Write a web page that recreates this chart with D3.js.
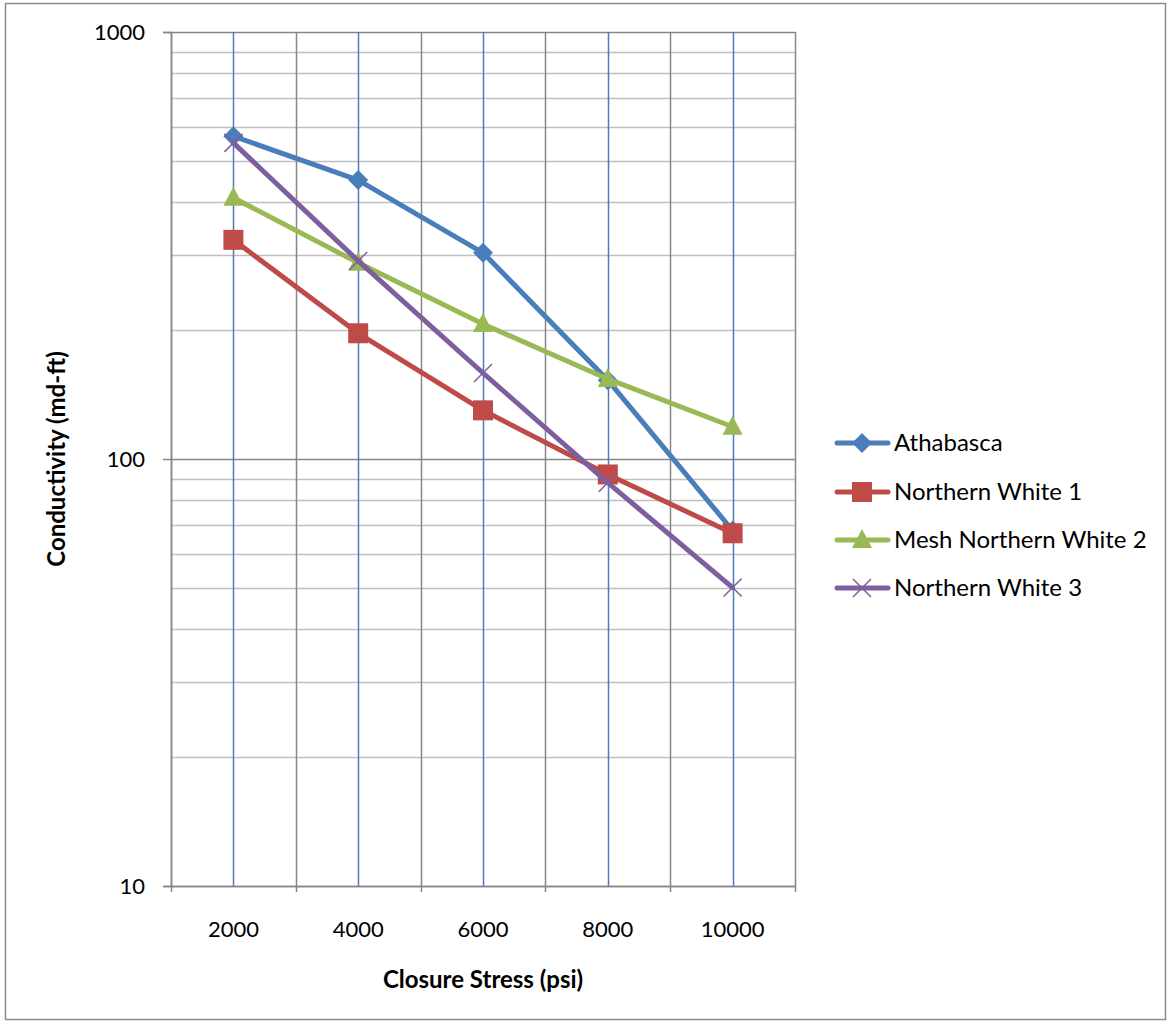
<!DOCTYPE html>
<html><head><meta charset="utf-8">
<script src="https://cdn.jsdelivr.net/npm/d3@7"></script>
<style>body{margin:0;background:#fff;}svg{display:block;}</style>
</head><body>
<script>
const categories = [2000, 4000, 6000, 8000, 10000];
const seriesNames = ["Athabasca", "Northern White 1", "Mesh Northern White 2", "Northern White 3"];
const athabasca = [570, 450, 304, 153, 68];
const northernWhite1 = [326, 197, 130, 92, 67];
const meshNorthernWhite2 = [409, 288, 207, 154, 119];
const northernWhite3 = [550, 291, 159, 88, 50];
const yTicks = [10, 100, 1000];
const colors = ["#4A7EBB", "#BE4B48", "#98B954", "#7D5FA0"];
const markers = ["diamond", "square", "triangle", "x"];
const seriesValues = [athabasca, northernWhite1, meshNorthernWhite2, northernWhite3];

const W = 1171, H = 1024;
const font = "Lato, 'Open Sans', sans-serif";
const svg = d3.select("body").append("svg").attr("width", W).attr("height", H);
svg.append("rect").attr("x", 5.5).attr("y", 3.5).attr("width", 1160).attr("height", 1016)
  .attr("fill", "#fff").attr("stroke", "#8c8c8c").attr("stroke-width", 1.5);

const L = 171, R = 795, T = 32, B = 886;
const x = d3.scaleBand().domain(categories).range([L, R]).paddingInner(0).paddingOuter(0);
const y = d3.scaleLog().domain([10, 1000]).range([B, T]);

// minor gridlines
const minor = [];
for (const d of [10, 100]) for (let k = 2; k <= 9; k++) minor.push(d * k);
svg.append("g").selectAll("line").data(minor).join("line")
  .attr("x1", L).attr("x2", R).attr("y1", d => Math.round(y(d)) + 0.5).attr("y2", d => Math.round(y(d)) + 0.5)
  .attr("stroke", "#c0c0c0").attr("stroke-width", 1.5);
// major gridlines
svg.append("g").selectAll("line").data(yTicks).join("line")
  .attr("x1", L).attr("x2", R).attr("y1", d => Math.round(y(d)) + 0.5).attr("y2", d => Math.round(y(d)) + 0.5)
  .attr("stroke", "#868686").attr("stroke-width", 1.5);
// vertical grid at category boundaries
const bounds = categories.map(c => x(c)).concat([R]);
svg.append("g").selectAll("line").data(bounds).join("line")
  .attr("x1", d => Math.round(d) + 0.5).attr("x2", d => Math.round(d) + 0.5).attr("y1", T).attr("y2", B + 6)
  .attr("stroke", "#868686").attr("stroke-width", 1.5);
// blue vertical lines at category centers
svg.append("g").selectAll("line").data(categories).join("line")
  .attr("x1", d => Math.round(x(d) + x.bandwidth() / 2) + 0.5).attr("x2", d => Math.round(x(d) + x.bandwidth() / 2) + 0.5)
  .attr("y1", T).attr("y2", B)
  .attr("stroke", "#4A7EBB").attr("stroke-width", 1.5);

// axes
const yAxis = d3.axisLeft(y).tickValues(yTicks).tickFormat(d3.format("d")).tickSize(8).tickPadding(18);
const gy = svg.append("g").attr("transform", `translate(${L},0)`).call(yAxis);
gy.select(".domain").attr("stroke", "#868686").attr("stroke-width", 1.5);
gy.selectAll(".tick line").attr("stroke", "#868686").attr("stroke-width", 1.5);
gy.selectAll("text").attr("font-family", font).attr("font-size", 22).attr("fill", "#000");

const xAxis = d3.axisBottom(x).tickSize(0).tickPadding(35);
const gx = svg.append("g").attr("transform", `translate(0,${B})`).call(xAxis);
gx.select(".domain").attr("stroke", "#868686").attr("stroke-width", 1.5);
gx.selectAll("text").attr("font-family", font).attr("font-size", 22).attr("fill", "#000");

// axis titles
svg.append("text").attr("x", (L + R) / 2).attr("y", 988).attr("text-anchor", "middle")
  .attr("font-family", font).attr("font-size", 24).attr("font-weight", "bold").text("Closure Stress (psi)");
svg.append("text").attr("transform", `translate(65,${(T + B) / 2}) rotate(-90)`).attr("text-anchor", "middle")
  .attr("font-family", font).attr("font-size", 24).attr("font-weight", "bold").text("Conductivity (md-ft)");

function drawMarker(g, type, color, cx, cy) {
  if (type === "diamond") {
    g.append("path").attr("d", `M${cx},${cy - 10}L${cx + 10},${cy}L${cx},${cy + 10}L${cx - 10},${cy}Z`).attr("fill", color);
  } else if (type === "square") {
    g.append("rect").attr("x", cx - 10).attr("y", cy - 10).attr("width", 20).attr("height", 20).attr("fill", color);
  } else if (type === "triangle") {
    g.append("path").attr("d", `M${cx},${cy - 11}L${cx + 10},${cy + 8}L${cx - 10},${cy + 8}Z`).attr("fill", color);
  } else {
    g.append("path").attr("d", `M${cx - 9},${cy - 9}L${cx + 9},${cy + 9}M${cx - 9},${cy + 9}L${cx + 9},${cy - 9}`)
      .attr("stroke", color).attr("stroke-width", 1.5).attr("fill", "none");
  }
}

const line = d3.line().x((d, i) => x(categories[i]) + x.bandwidth() / 2).y(d => y(d));
seriesValues.forEach((vals, si) => {
  const g = svg.append("g");
  g.append("path").attr("d", line(vals)).attr("fill", "none").attr("stroke", colors[si])
    .attr("stroke-width", 5).attr("stroke-linejoin", "round").attr("stroke-linecap", "round");
  vals.forEach((v, i) => drawMarker(g, markers[si], colors[si], x(categories[i]) + x.bandwidth() / 2, y(v)));
});

// legend
const legY = [443, 492, 540, 588];
seriesNames.forEach((name, si) => {
  const g = svg.append("g");
  const yy = legY[si];
  g.append("line").attr("x1", 837).attr("x2", 888).attr("y1", yy).attr("y2", yy)
    .attr("stroke", colors[si]).attr("stroke-width", 5).attr("stroke-linecap", "round");
  drawMarker(g, markers[si], colors[si], 862, yy);
  g.append("text").attr("x", 894).attr("y", yy).attr("dy", "0.35em").attr("font-family", font)
    .attr("font-size", 24).attr("fill", "#000").text(name);
});
</script>
</body></html>
